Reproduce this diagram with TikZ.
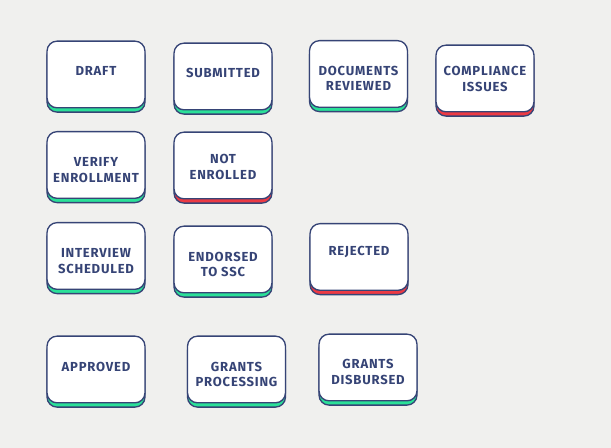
\documentclass[tikz,border=0pt]{standalone}
\usepackage{fontspec}
\usetikzlibrary{shadows}
\newfontfamily\statefont[LetterSpace=6]{Fira Sans}
\definecolor{navy}{RGB}{54,68,118}
\definecolor{mint}{RGB}{42,224,152}
\definecolor{alert}{RGB}{236,58,68}
\definecolor{paper}{RGB}{240,240,238}

\tikzset{
 state/.style={draw=navy, line width=1pt, fill=white, rounded corners=7.5pt,
   minimum width=73.5pt, minimum height=50pt, inner sep=0pt},
 ok/.style={state, drop shadow={shadow xshift=0pt, shadow yshift=-3.2pt,
   fill=mint, draw=navy, opacity=1}},
 fail/.style={state, drop shadow={shadow xshift=0pt, shadow yshift=-3.2pt,
   fill=alert, draw=navy, opacity=1}},
 lbl/.style={anchor=north, align=center, text=navy, inner sep=0pt,
   font=\statefont\bfseries\fontsize{9.8}{11.6}\selectfont}
}

\begin{document}
\begin{tikzpicture}[x=0.75pt,y=-0.75pt]
 \fill[paper] (0,0) rectangle (611,448);
 \useasboundingbox (0,0) rectangle (611,448);

 % first row
 \node[ok] (draft) at (96,74.5) {};
 \node[lbl] (draft-t) at ([yshift=-19.4pt]draft.north) {DRAFT};
 \node[ok] (submitted) at (223,76.5) {};
 \node[lbl] (submitted-t) at ([yshift=-19.4pt]submitted.north) {SUBMITTED};
 \node[ok] (reviewed) at (358.5,74) {};
 \node[lbl] (reviewed-t) at ([yshift=-19.4pt]reviewed.north) {DOCUMENTS\\REVIEWED};
 \node[fail] (compliance) at (485,78.5) {};
 \node[lbl] (compliance-t) at ([yshift=-16.2pt]compliance.north) {COMPLIANCE\\ISSUES};

 % second row
 \node[ok] (verify) at (96,165) {};
 \node[lbl] (verify-t) at ([yshift=-19.8pt]verify.north) {VERIFY\\ENROLLMENT};
 \node[fail] (notenrolled) at (223,165.5) {};
 \node[lbl] (notenrolled-t) at ([yshift=-17.2pt]notenrolled.north) {NOT\\ENROLLED};

 % third row
 \node[ok] (interview) at (96,256) {};
 \node[lbl] (interview-t) at ([yshift=-19.8pt]interview.north) {INTERVIEW\\SCHEDULED};
 \node[ok] (endorsed) at (223,259.5) {};
 \node[lbl] (endorsed-t) at ([yshift=-19.8pt]endorsed.north) {ENDORSED\\TO SSC};
 \node[fail] (rejected) at (359,257) {};
 \node[lbl] (rejected-t) at ([yshift=-17pt]rejected.north) {REJECTED};

 % last row
 \node[ok] (approved) at (96,369.5) {};
 \node[lbl] (approved-t) at ([yshift=-19.6pt]approved.north) {APPROVED};
 \node[ok] (processing) at (236.5,369.5) {};
 \node[lbl] (processing-t) at ([yshift=-19.6pt]processing.north) {GRANTS\\PROCESSING};
 \node[ok] (disbursed) at (368,367.5) {};
 \node[lbl] (disbursed-t) at ([yshift=-19.3pt]disbursed.north) {GRANTS\\DISBURSED};
\end{tikzpicture}
\end{document}
